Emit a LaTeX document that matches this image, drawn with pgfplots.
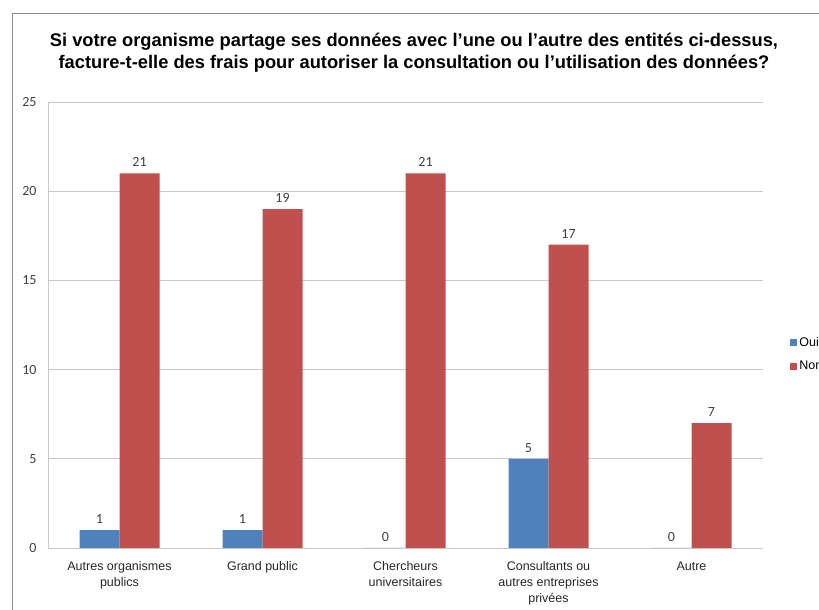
\documentclass[border=0pt]{standalone}
\usepackage{pgfplots}
\pgfplotsset{compat=1.18}
\usepackage{fontspec}
\setmainfont{Liberation Sans}
\newfontfamily\calfont{Carlito}
\definecolor{oui}{HTML}{4F81BD}
\definecolor{non}{HTML}{C0504D}
\definecolor{gridc}{HTML}{C8C8C8}
\definecolor{txt}{HTML}{404040}
\definecolor{frame}{HTML}{8C8C8C}
\begin{document}
\begin{tikzpicture}
\begin{axis}[
  at={(48pt,62pt)}, anchor=south west,
  scale only axis, width=715pt, height=446pt,
  ybar=0pt, bar width=40pt,
  xmin=-0.5, xmax=4.5, ymin=0, ymax=25,
  xtick={0,1,2,3,4},
  xticklabels={{Autres organismes\\publics},{Grand public},{Chercheurs\\universitaires},{Consultants ou\\autres entreprises\\privées},{Autre}},
  ytick={0,5,10,15,20,25},
  axis x line=bottom, axis y line=left,
  axis line style={-, gridc, line width=0.8pt},
  major tick length=0pt,
  ymajorgrids, grid style={gridc, line width=0.8pt},
  /pgf/number format/assume math mode=true,
  yticklabel style={font=\calfont\fontsize{14}{16}\selectfont, text=txt, xshift=-8pt},
  xticklabel style={font=\fontsize{12.5}{16}\selectfont, text=black!85, align=center, yshift=-10pt},
  nodes near coords,
  every node near coord/.append style={font=\calfont\fontsize{14}{16}\selectfont, text=txt, yshift=3pt},
  legend entries={Oui,Non},
  legend style={draw=none, fill=none, at={(1.038,0.477)}, anchor=north west,
    font=\fontsize{12.5}{15}\selectfont, row sep=9pt, inner sep=0pt},
  legend cell align=left,
  legend image code/.code={\fill[#1] (0pt,-3.5pt) rectangle (7pt,3.5pt);},
]
\addplot[fill=oui, draw=none] coordinates {(0,1) (1,1) (2,0) (3,5) (4,0)};
\addplot[fill=non, draw=none] coordinates {(0,21) (1,19) (2,21) (3,17) (4,7)};
\end{axis}
\node[font=\fontsize{18.3}{22}\selectfont\bfseries, align=center, text=black] at (414pt,557pt)
  {Si votre organisme partage ses données avec l’une ou l’autre des entités ci-dessus,\\
   facture-t-elle des frais pour autoriser la consultation ou l’utilisation des données?};
\draw[frame, line width=1pt] (12pt,-5pt) -- (12pt,596pt) -- (830pt,596pt);
\pgfresetboundingbox
\path[use as bounding box] (0pt,0pt) rectangle (819pt,610pt);
\end{tikzpicture}
\end{document}
